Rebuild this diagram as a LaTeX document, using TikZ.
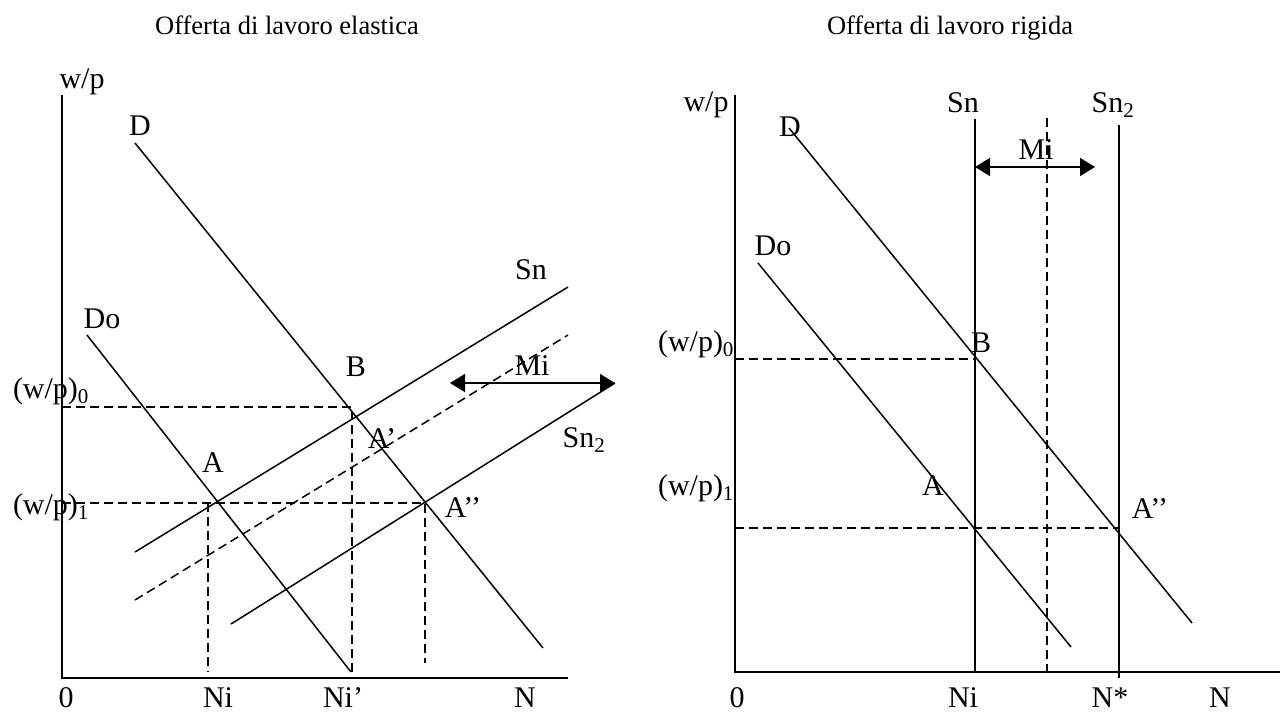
\documentclass[tikz,border=0pt]{standalone}
\usepackage{fontspec}
\setmainfont{Liberation Serif}
\usepackage{tikz}
\usetikzlibrary{arrows.meta}

\begin{document}
\begin{tikzpicture}[x=1pt,y=-1pt,
  lab/.style={anchor=base,inner sep=0pt,font=\fontsize{30}{36}\selectfont},
  ttl/.style={anchor=base,inner sep=0pt,font=\fontsize{26.5}{32}\selectfont},
  curve/.style={line width=1.5pt},
  axis/.style={line width=2pt},
  guide/.style={line width=1.5pt,dash pattern=on 9pt off 5pt},
  miarrow/.style={line width=1.5pt,{Triangle[length=15pt,width=18pt]}-{Triangle[length=15pt,width=18pt]}}]
  \useasboundingbox (0,0) rectangle (1280,713);

  % elastic supply
  \node[ttl] (t1) at (287,34) {Offerta di lavoro elastica};
  \coordinate (o1) at (62,678);
  \coordinate (y1) at (62,95);
  \coordinate (x1) at (568,678);
  \coordinate (d1a) at (135,143);  \coordinate (d1b) at (543,648);
  \coordinate (do1a) at (87,335);  \coordinate (do1b) at (351,672);
  \coordinate (sn1a) at (135,552); \coordinate (sn1b) at (568,287);
  \coordinate (sm1a) at (135,600); \coordinate (sm1b) at (568,335);
  \coordinate (sz1a) at (231,624); \coordinate (sz1b) at (615,383);
  \coordinate (mi1a) at (450,383);
  \coordinate (b1) at (352,407);   \coordinate (b1x) at (352,672);
  \coordinate (a1) at (208,503);   \coordinate (a1x) at (208,672);
  \coordinate (aa1) at (425,503);  \coordinate (aa1x) at (425,663);
  \coordinate (w0l) at (62,407);   \coordinate (w1l) at (62,503);

  \node[lab] (wp1) at (82,88) {w/p};
  \node[lab] (D1) at (140,135) {D};
  \node[lab] (Do1) at (102,328) {Do};
  \node[lab] (Sn1) at (531,279) {Sn};
  \node[lab] (Mi1) at (532,375) {Mi};
  \node[lab] (Sz1) at (584,447) {Sn\textsubscript{2}};
  \node[lab] (B1) at (356,376) {B};
  \node[lab] (Ap1) at (382,448) {A’};
  \node[lab] (A1) at (213,472) {A};
  \node[lab] (App1) at (463,517) {A’’};
  \node[lab] (w01) at (51,398) {(w/p)\textsubscript{0}};
  \node[lab] (w11) at (51,514) {(w/p)\textsubscript{1}};
  \node[lab] (z1) at (66,707) {0};
  \node[lab] (Ni1) at (218,707) {Ni};
  \node[lab] (Nip1) at (343,707) {Ni’};
  \node[lab] (N1) at (525,707) {N};

  \draw[axis] (y1) -- (o1) -- (x1);
  \draw[curve] (d1a) -- (d1b);
  \draw[curve] (do1a) -- (do1b);
  \draw[curve] (sn1a) -- (sn1b);
  \draw[guide] (sm1a) -- (sm1b);
  \draw[curve] (sz1a) -- (sz1b);
  \draw[miarrow] (mi1a) -- (sz1b);
  \draw[guide] (w0l) -- (b1) -- (b1x);
  \draw[guide] (w1l) -- (aa1) -- (aa1x);
  \draw[guide] (a1) -- (a1x);

  % rigid supply
  \node[ttl] (t2) at (950,34) {Offerta di lavoro rigida};
  \coordinate (o2) at (735,672);
  \coordinate (y2) at (735,95);
  \coordinate (x2) at (1280,672);
  \coordinate (sn2a) at (975,119);  \coordinate (sn2b) at (975,672);
  \coordinate (sz2a) at (1119,125); \coordinate (sz2b) at (1119,678);
  \coordinate (sm2a) at (1047,118); \coordinate (sm2b) at (1047,672);
  \coordinate (mi2a) at (975,167);  \coordinate (mi2b) at (1095,167);
  \coordinate (d2a) at (789,128);   \coordinate (d2b) at (1192,623);
  \coordinate (do2a) at (758,263);  \coordinate (do2b) at (1071,647);
  \coordinate (b2) at (975,359);    \coordinate (w0r) at (735,359);
  \coordinate (aa2) at (1119,528);  \coordinate (w1r) at (735,528);

  \node[lab] (wp2) at (706,111) {w/p};
  \node[lab] (Sn2) at (963,112) {Sn};
  \node[lab] (Sz2) at (1113,112) {Sn\textsubscript{2}};
  \node[lab] (D2) at (790,136) {D};
  \node[lab] (Do2) at (773,255) {Do};
  \node[lab] (Mi2) at (1036,159) {Mi};
  \node[lab] (B2) at (981,352) {B};
  \node[lab] (A2) at (933,495) {A};
  \node[lab] (App2) at (1150,518) {A’’};
  \node[lab] (w02) at (696,351) {(w/p)\textsubscript{0}};
  \node[lab] (w12) at (696,495) {(w/p)\textsubscript{1}};
  \node[lab] (z2) at (737,707) {0};
  \node[lab] (Ni2) at (963,707) {Ni};
  \node[lab] (Ns2) at (1110,707) {N*};
  \node[lab] (N2) at (1220,707) {N};

  \draw[axis] (y2) -- (o2) -- (x2);
  \draw[curve] (sn2a) -- (sn2b);
  \draw[curve] (sz2a) -- (sz2b);
  \draw[guide] (sm2a) -- (sm2b);
  \draw[miarrow] (mi2a) -- (mi2b);
  \draw[curve] (d2a) -- (d2b);
  \draw[curve] (do2a) -- (do2b);
  \draw[guide] (w0r) -- (b2);
  \draw[guide] (w1r) -- (aa2);
\end{tikzpicture}
\end{document}
